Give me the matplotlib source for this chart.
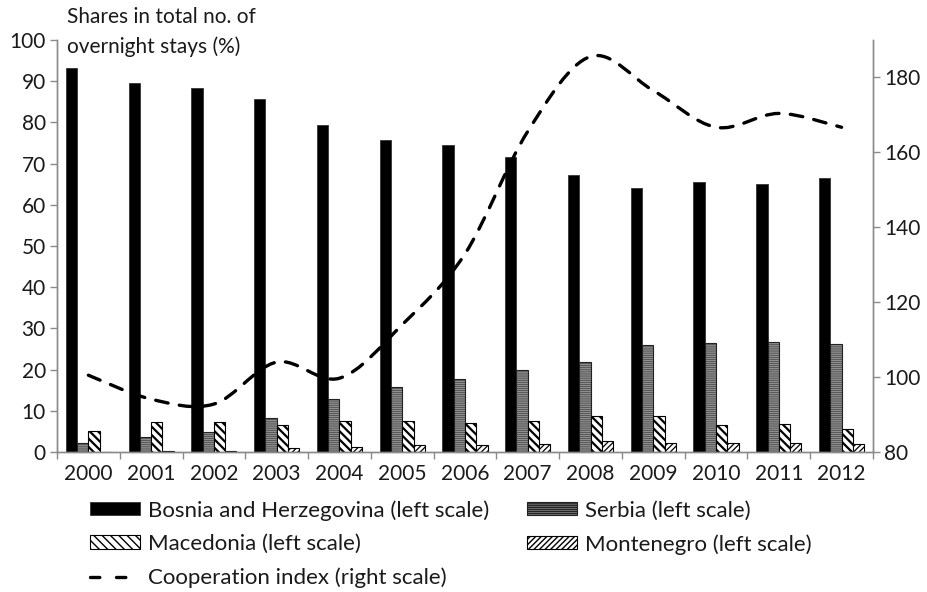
import numpy as np
import matplotlib
matplotlib.use("Agg")
import matplotlib.pyplot as plt
from matplotlib.path import Path
from matplotlib.patches import PathPatch
from matplotlib.lines import Line2D

plt.rcParams['font.family'] = ['Lato', 'DejaVu Sans']

# Datos
years = ["2000", "2001", "2002", "2003", "2004", "2005", "2006",
         "2007", "2008", "2009", "2010", "2011", "2012"]
bosnia = [93.2, 89.5, 88.3, 85.7, 79.4, 75.7, 74.5, 71.5, 67.3, 64.0, 65.5, 65.0, 66.6]
serbia = [2.1, 3.6, 4.9, 8.2, 12.8, 15.8, 17.7, 19.9, 21.8, 26.0, 26.5, 26.7, 26.2]
macedonia = [5.1, 7.3, 7.3, 6.6, 7.5, 7.5, 7.0, 7.5, 8.7, 8.7, 6.6, 6.8, 5.5]
montenegro = [0.1, 0.2, 0.2, 0.9, 1.1, 1.6, 1.6, 1.9, 2.6, 2.1, 2.1, 2.1, 2.0]
coop_index = [100.5, 94.1, 92.8, 104.0, 99.7, 114.0, 132.9, 165.6, 185.6, 176.5, 166.7, 170.4, 166.7]

label_bih = "Bosnia and Herzegovina (left scale)"
label_srb = "Serbia (left scale)"
label_mkd = "Macedonia (left scale)"
label_mne = "Montenegro (left scale)"
label_coop = "Cooperation index (right scale)"

FS_TICK = 15
FS_LEG = 16
GRAY = "#8a8a8a"
TXT = "#1a1a1a"

fig = plt.figure(figsize=(9.28, 5.92), dpi=100)
ax = fig.add_axes([0.0614, 0.2365, 0.8793, 0.6959])
ax2 = ax.twinx()

x = np.arange(len(years))
w = 0.18

bars = []
bars.append(ax.bar(x - 1.5 * w, bosnia, w, color="black", edgecolor="#333333", linewidth=0.6, label=label_bih))
bars.append(ax.bar(x - 0.5 * w, serbia, w, color="#8e8e8e", edgecolor="#222222", linewidth=0.8,
                   hatch="--------", label=label_srb))
bars.append(ax.bar(x + 0.5 * w, macedonia, w, color="white", edgecolor="black", linewidth=0.8,
                   hatch="\\\\\\\\", label=label_mkd))
bars.append(ax.bar(x + 1.5 * w, montenegro, w, color="white", edgecolor="black", linewidth=0.8,
                   hatch="//////", label=label_mne))
hatch_lw = [0.0, 0.35, 1.6, 0.9]
for b, hl in zip(bars, hatch_lw):
    for p in b.patches:
        if hasattr(p, "set_hatch_linewidth"):
            p.set_hatch_linewidth(hl)

# Línea suavizada (Bezier por puntos, estilo Excel)
pts = np.column_stack([x, coop_index]).astype(float)
verts = [tuple(pts[0])]
codes = [Path.MOVETO]
n = len(pts)
for i in range(n - 1):
    p0 = pts[max(i - 1, 0)]
    p1 = pts[i]
    p2 = pts[i + 1]
    p3 = pts[min(i + 2, n - 1)]
    c1 = p1 + (p2 - p0) / 6.0
    c2 = p2 - (p3 - p1) / 6.0
    verts += [tuple(c1), tuple(c2), tuple(p2)]
    codes += [Path.CURVE4, Path.CURVE4, Path.CURVE4]
curve = PathPatch(Path(verts, codes), fill=False, edgecolor="black", linewidth=2.4,
                  linestyle=(0, (3.8, 3.4)), capstyle="round")
ax2.add_patch(curve)

# Ejes
ax.set_xlim(-0.5, len(years) - 0.5)
ax.set_ylim(0, 100)
ax2.set_ylim(80, 190)
ax.set_yticks(np.arange(0, 101, 10))
ax2.set_yticks(np.arange(80, 181, 20))
ax.set_xticks(x)
ax.set_xticklabels(years)
ax.set_xticks(np.arange(-0.5, len(years), 1.0), minor=True)

for a in (ax, ax2):
    a.spines["top"].set_visible(False)
    for s in ("left", "right", "bottom"):
        a.spines[s].set_color(GRAY)
        a.spines[s].set_linewidth(1.0)
ax.tick_params(axis="x", which="major", length=0, pad=9, labelsize=FS_TICK, labelcolor=TXT)
ax.tick_params(axis="x", which="minor", length=5, color=GRAY, width=1.0, direction="out")
ax.tick_params(axis="y", length=5, color=GRAY, width=1.0, pad=3, labelsize=FS_TICK, labelcolor=TXT)
ax2.tick_params(axis="y", length=5, color=GRAY, width=1.0, pad=3, labelsize=FS_TICK, labelcolor=TXT)

fig.text(67 / 928, 1 - 7 / 592, "Shares in total no. of\novernight stays (%)",
         ha="left", va="top", fontsize=15, color=TXT, linespacing=1.55)

# Leyenda
coop_handle = Line2D([], [], color="black", linewidth=2.4, linestyle=(0, (2.8, 5.0)),
                     dash_capstyle="round")
handles = [bars[0], bars[2], coop_handle, bars[1], bars[3]]
labels = [label_bih, label_mkd, label_coop, label_srb, label_mne]
leg = fig.legend(handles, labels, loc="upper left", bbox_to_anchor=(90 / 928, 1 - 500 / 592),
                 ncol=2, frameon=False, fontsize=FS_LEG, handlelength=2.25, handleheight=0.55,
                 handletextpad=0.36, columnspacing=1.7, labelspacing=0.6, borderaxespad=0,
                 borderpad=0, labelcolor=TXT)

fig.savefig("out.png", dpi=100)
